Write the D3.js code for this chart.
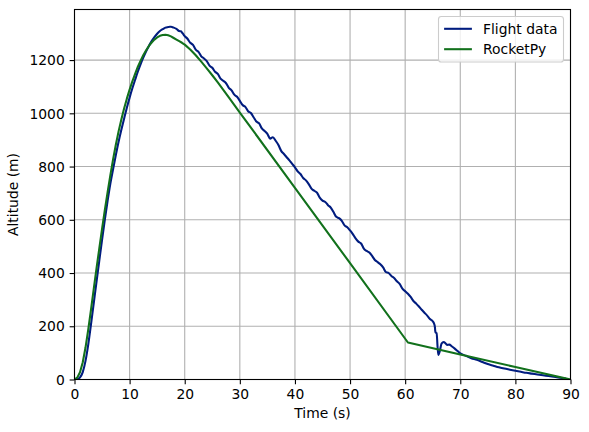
<!DOCTYPE html>
<html><head><meta charset="utf-8">
<script src="https://cdn.jsdelivr.net/npm/d3@7"></script>
<style>
html,body{margin:0;padding:0;background:#fff;}
svg{display:block;font-family:"DejaVu Sans",sans-serif;}
</style></head>
<body>
<svg id="chart" width="589" height="432"></svg>
<script>
// ---- data ----
const flightTime = [0,0.5,1,1.5,2,2.5,3,3.5,4,4.5,5,5.5,6,6.5,7,7.5,8,8.5,9,9.5,10,10.5,11,11.5,12,12.5,13,13.5,14,14.5,15,15.5,16,16.5,17,17.3,17.5,18,18.5,19,19.3,19.6,20,
20.5,21,21.5,22,22.5,23,23.5,24,24.5,25,25.5,26,26.5,27,27.5,28,
28.5,29,29.5,30,30.5,31,31.5,32,32.5,33,33.5,34,34.5,35,35.5,36,36.5,37,37.5,38,38.5,39,39.5,40,40.5,41,41.5,42,42.5,43,43.5,44,44.5,45,45.5,46,46.5,47,47.5,48,48.5,49,49.5,50,50.5,51,51.5,52,52.5,53,53.5,54,54.5,55,55.5,56,56.5,57,57.5,58,58.5,59,59.5,60,
60.5,61,61.5,62,62.5,63,63.5,64,64.5,65,65.3,65.4,65.45,65.55,65.7,66,66.3,66.6,67,67.3,67.6,68,68.5,69,69.5,70,71,72,73,74,75,76,77,78,79,80,81,82,83,84,85,86,87,88,89];
const flightAlt = [0,1,8,28,70,132,208,288,368,447,525,600,670,735,790,843,893,938,980,1021,1059,1094,1126,1157,1185,1210,1233,1253,1271,1286,1299,1309,1316,1322,1324,1325,1325,1322,1317,1309,1308,1301,1290,
1280,1265,1257,1239,1231,1214,1206,1196,1179,1171,1156,1148,1130,1122,1113,1096,
1086,1070,1062,1047,1031,1024,1008,1001,985,969,962,943,934,923,905,910,897,881,859,847,835,823,810,797,782,772,757,748,734,717,709,702,683,672,667,655,646,629,611,606,596,579,572,560,546,530,518,511,492,483,477,464,449,441,433,421,404,400,389,381,369,359,341,332,322,310,295,
285,274,262,251,240,227,219,207,196,184,176,174,92,108,135,141,136,130,131,124,116,107,98,89,80,74,66,58,52,46,41,37,33,29,25,22,19,16,13,10,7,4,2,0.5,0];

const simTime = [0,0.5,1,1.5,2,2.5,3,3.5,4,4.5,5,5.5,6,6.5,7,7.5,8,8.5,9,9.5,10,10.5,11,11.5,12,12.5,13,13.5,14,14.5,15,15.5,16,16.5,17,17.5,18,18.5,19,19.5,20,21,22,23,24,25,26,27,28,30,40,50,60.5,70,80,90];
const simAlt = [0,7,27,65,120,188,263,341,418,493,566,636,703,767,827,882,932,977,1018,1055,1089,1120,1148,1175,1198,1219,1237,1253,1266,1277,1285,1291,1294,1295,1293,1289,1283,1277,1271,1265,1258,1240,1218,1194,1169,1143,1116,1088,1060,1003,720,437,139,94,47,0];

const xTicks = [0,10,20,30,40,50,60,70,80,90];
const yTicks = [0,200,400,600,800,1000,1200];
const seriesNames = ["Flight data","RocketPy"];
const seriesColors = ["#001c7f","#12711c"];

// ---- layout ----
const svg = d3.select("#chart");
const L = 74.5, R = 570.5, T = 9.5, B = 379.5;
const x = d3.scaleLinear().domain([0,90]).range([L,R]);
const y = d3.scaleLinear().domain([0,1390]).range([B,T]);
const fs = 13.89;

// grid
const grid = svg.append("g");
grid.selectAll("line.gx").data(xTicks).enter().append("line")
  .attr("x1",d=>x(d)).attr("x2",d=>x(d)).attr("y1",T).attr("y2",B)
  .attr("stroke","#b0b0b0").attr("stroke-width",1.1);
grid.selectAll("line.gy").data(yTicks).enter().append("line")
  .attr("y1",d=>y(d)).attr("y2",d=>y(d)).attr("x1",L).attr("x2",R)
  .attr("stroke","#b0b0b0").attr("stroke-width",1.1);

// clip
svg.append("clipPath").attr("id","clip").append("rect")
  .attr("x",L).attr("y",T).attr("width",R-L).attr("height",B-T);

const line = d3.line().curve(d3.curveMonotoneX).x(d=>x(d[0])).y(d=>y(d[1]));
const flight = flightTime.map((t,i)=>[t,flightAlt[i]]);
const sim = simTime.map((t,i)=>[t,simAlt[i]]);

const plot = svg.append("g").attr("clip-path","url(#clip)");
plot.append("path").datum(flight).attr("d",line).attr("fill","none")
  .attr("stroke",seriesColors[0]).attr("stroke-width",2.08).attr("stroke-linejoin","round").attr("stroke-linecap","square");
plot.append("path").datum(sim).attr("d",d3.line().x(d=>x(d[0])).y(d=>y(d[1]))).attr("fill","none")
  .attr("stroke",seriesColors[1]).attr("stroke-width",2.08).attr("stroke-linejoin","round").attr("stroke-linecap","square");

// axes
const xAxis = d3.axisBottom(x).tickValues(xTicks).tickSize(4.86).tickPadding(4.86).tickFormat(d3.format("d"));
const yAxis = d3.axisLeft(y).tickValues(yTicks).tickSize(4.86).tickPadding(4.86).tickFormat(d3.format("d"));
const gx = svg.append("g").attr("transform",`translate(0,${B})`).call(xAxis);
const gy = svg.append("g").attr("transform",`translate(${L},0)`).call(yAxis);
[gx,gy].forEach(g=>{
  g.select(".domain").remove();
  g.selectAll(".tick line").attr("stroke","#000").attr("stroke-width",1.1);
  g.selectAll(".tick text").attr("fill","#000").attr("font-size",fs).attr("font-family","DejaVu Sans");
});
gx.selectAll(".tick text").attr("dy","0.73em");
gy.selectAll(".tick text").attr("dy","0.34em");

// spines
svg.append("rect").attr("x",L).attr("y",T).attr("width",R-L).attr("height",B-T)
  .attr("fill","none").attr("stroke","#000").attr("stroke-width",1.1);

// axis labels
svg.append("text").attr("x",(L+R)/2).attr("y",418).attr("text-anchor","middle")
  .attr("font-size",fs).text("Time (s)");
svg.append("text").attr("transform",`translate(18,${(T+B)/2}) rotate(-90)`).attr("text-anchor","middle")
  .attr("font-size",fs).text("Altitude (m)");

// legend
const lg = svg.append("g");
lg.append("rect").attr("x",438.5).attr("y",16.5).attr("width",125).attr("height",45.5)
  .attr("rx",2.8).attr("ry",2.8).attr("fill","#fff").attr("fill-opacity",0.8)
  .attr("stroke","#cccccc").attr("stroke-width",1.1);
seriesNames.forEach((name,i)=>{
  const cy = 28.8 + i*20.4;
  lg.append("line").attr("x1",444.1).attr("x2",471.9).attr("y1",cy).attr("y2",cy)
    .attr("stroke",seriesColors[i]).attr("stroke-width",2.08);
  lg.append("text").attr("x",483).attr("y",cy+5).attr("font-size",fs).attr("fill","#000").text(name);
});
</script>
</body></html>
